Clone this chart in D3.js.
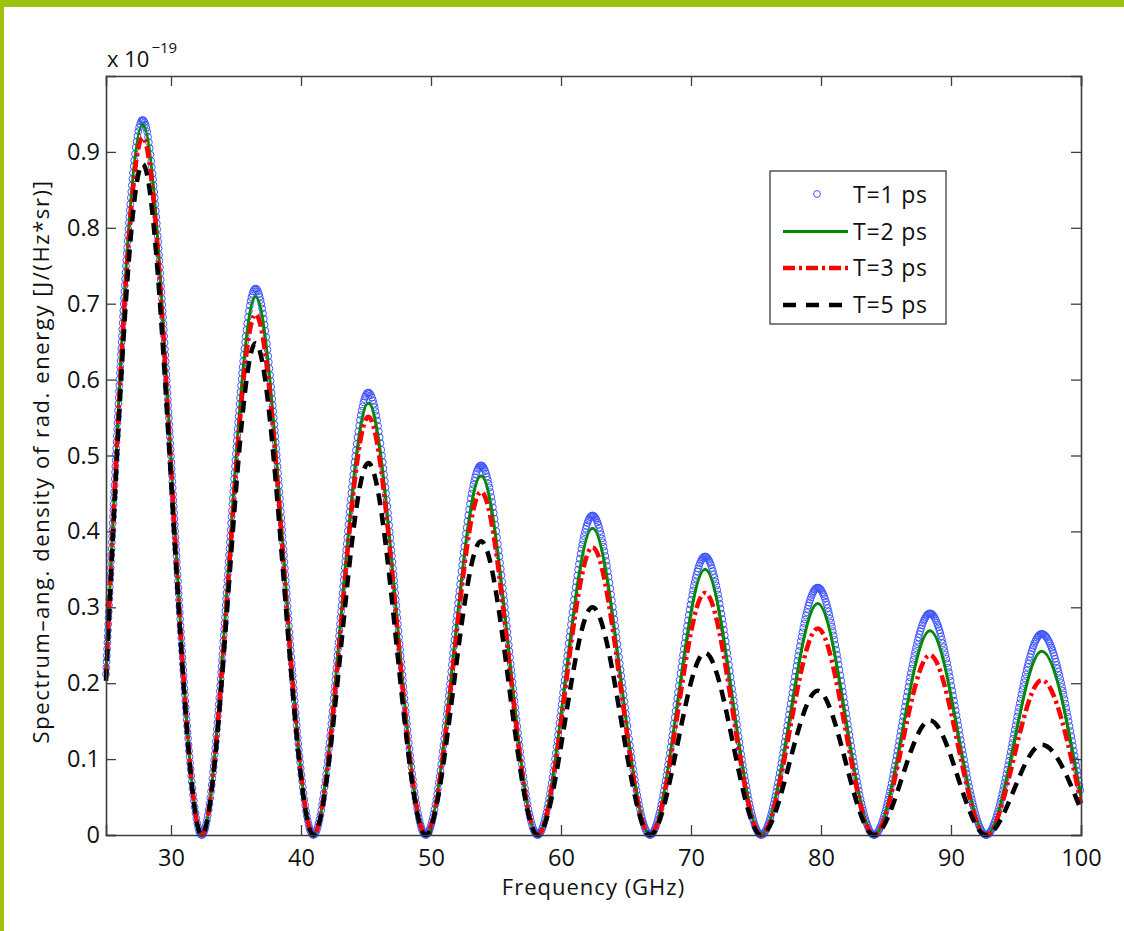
<!DOCTYPE html>
<html lang="en">
<head>
<meta charset="UTF-8">
<title>Spectrum</title>
<script src="https://cdn.jsdelivr.net/npm/d3@7"></script>
<style>
  body { margin: 0; background: #fff; }
  .frame-top { position: absolute; left: 0; top: 0; width: 1124px; height: 7px; background: #9dc30e; }
  .frame-left { position: absolute; left: 0; top: 0; width: 4px; height: 931px; background: #9dc30e; }
  svg text { font-family: "Open Sans", "DejaVu Sans", sans-serif; fill: #111; }
  .axis path, .axis line { stroke: #3a3f3f; }
</style>
</head>
<body>
<div class="frame-top"></div>
<div class="frame-left"></div>
<div id="root"></div>
<script>
  // key points: start, peaks and zeros, end (GHz)
  const freq = [25, 27.82, 32.36, 36.5, 40.95, 45.18, 49.59, 53.85, 58.2, 62.42,
                66.85, 71.08, 75.4, 79.75, 84.08, 88.38, 92.7, 96.98, 100]
  // values in units of 1e-19 J/(Hz*sr)
  const t1 = [0.212, 0.942, 0, 0.720, 0, 0.583, 0, 0.487, 0, 0.421, 0, 0.367, 0, 0.326, 0, 0.292, 0, 0.265, 0.053]
  const t2 = [0.210, 0.936, 0, 0.709, 0, 0.569, 0, 0.473, 0, 0.404, 0, 0.350, 0, 0.305, 0, 0.269, 0, 0.242, 0.050]
  const t3 = [0.208, 0.919, 0, 0.686, 0, 0.551, 0, 0.452, 0, 0.379, 0, 0.319, 0, 0.272, 0, 0.237, 0, 0.204, 0.042]
  const t5 = [0.203, 0.884, 0, 0.648, 0, 0.490, 0, 0.387, 0, 0.300, 0, 0.240, 0, 0.190, 0, 0.151, 0, 0.119, 0.033]
  const seriesNames = ['T=1 ps', 'T=2 ps', 'T=3 ps', 'T=5 ps']
  const xTicks = [30, 40, 50, 60, 70, 80, 90, 100]
  const yTicks = [0, 0.1, 0.2, 0.3, 0.4, 0.5, 0.6, 0.7, 0.8, 0.9]

  const width = 1124, height = 931
  const padL = 106, padR = 1081, padT = 76, padB = 835

  const svg = d3.select('#root').append('svg')
      .attr('width', width).attr('height', height)
      .style('position', 'absolute').style('left', 0).style('top', 0)

  const x = d3.scaleLinear().domain([25, 100]).range([padL, padR])
  const y = d3.scaleLinear().domain([0, 1]).range([padB, padT])

  const line = d3.line()
      .x(d => x(d[0]))
      .y(d => y(d[1]))
      .curve(d3.curveMonotoneX)

  const pairs = vals => freq.map((f, i) => [f, vals[i]])

  // T=1 : blue circle markers along the curve
  const guide = svg.append('path')
      .attr('d', line(pairs(t1)))
      .attr('fill', 'none').attr('stroke', 'none')
  const node = guide.node()
  const total = node.getTotalLength()
  const marks = []
  let last = null
  for (let s = 0; s <= total; s += 0.5) {
      const p = node.getPointAtLength(s)
      if (!last || p.x - last.x >= 0.8 || Math.hypot(p.x - last.x, p.y - last.y) >= 6) {
          marks.push([p.x, p.y]); last = p
      }
  }
  svg.append('g').selectAll('circle')
      .data(marks)
      .enter().append('circle')
      .attr('cx', d => d[0]).attr('cy', d => d[1])
      .attr('r', 3.4)
      .attr('fill', 'none')
      .attr('stroke', '#3f55ff')
      .attr('stroke-width', 1)

  // T=2 solid green
  svg.append('path').attr('d', line(pairs(t2)))
      .attr('fill', 'none').attr('stroke', '#008a00').attr('stroke-width', 3)
  // T=3 red dash-dot
  svg.append('path').attr('d', line(pairs(t3)))
      .attr('fill', 'none').attr('stroke', '#ff0000').attr('stroke-width', 4.5)
      .attr('stroke-dasharray', '12,4,3,4')
  // T=5 black dashed
  svg.append('path').attr('d', line(pairs(t5)))
      .attr('fill', 'none').attr('stroke', '#000').attr('stroke-width', 4.5)
      .attr('stroke-dasharray', '12,8')

  // axes, matlab style: box, ticks pointing inward on all sides
  const tickLen = 10
  svg.append('g').attr('class', 'axis')
      .attr('transform', `translate(0,${padB})`)
      .call(d3.axisBottom(x).tickValues(xTicks).tickSize(-tickLen).tickPadding(14).tickFormat(d3.format('d')))
  svg.append('g').attr('class', 'axis')
      .attr('transform', `translate(0,${padT})`)
      .call(d3.axisTop(x).tickValues(xTicks).tickSize(-tickLen).tickFormat(''))
  svg.append('g').attr('class', 'axis')
      .attr('transform', `translate(${padL},0)`)
      .call(d3.axisLeft(y).tickValues(yTicks).tickSize(-tickLen).tickPadding(6).tickFormat(d => d === 0 ? '0' : d3.format('.1f')(d)))
  svg.append('g').attr('class', 'axis')
      .attr('transform', `translate(${padR},0)`)
      .call(d3.axisRight(y).tickValues(yTicks).tickSize(-tickLen).tickFormat(''))

  svg.selectAll('.axis path.domain').attr('stroke-width', 1.6)
  svg.selectAll('.axis .tick line').attr('stroke-width', 1.3)
  svg.selectAll('.axis text').attr('font-size', 23.5).attr('fill', '#111')
      .attr('font-family', '"Open Sans", sans-serif')

  // exponent label
  const expo = svg.append('text').attr('x', padL + 1).attr('y', 67).attr('font-size', 22)
  expo.append('tspan').text('x 10')
  expo.append('tspan').attr('dx', 2).attr('dy', -14).attr('font-size', 15).text('\u221219')

  // axis titles
  svg.append('text')
      .attr('x', (padL + padR) / 2).attr('y', 895)
      .attr('text-anchor', 'middle').attr('font-size', 22)
      .attr('letter-spacing', 1)
      .text('Frequency (GHz)')
  svg.append('text')
      .attr('transform', `translate(49,${(padT + padB) / 2 + 6}) rotate(-90)`)
      .attr('text-anchor', 'middle').attr('font-size', 22)
      .attr('letter-spacing', 1.6)
      .text('Spectrum\u2013ang. density of rad. energy [J/(Hz*sr)]')

  // legend
  const lg = svg.append('g').attr('transform', 'translate(770,171)')
  lg.append('rect').attr('width', 176).attr('height', 153)
      .attr('fill', '#fff').attr('stroke', '#3a3f3f').attr('stroke-width', 1.3)
  const rows = [24, 60.5, 97, 134]
  const styles = [
      null,
      { stroke: '#008a00', w: 3, dash: null },
      { stroke: '#ff0000', w: 4.5, dash: '12,4,3,4' },
      { stroke: '#000', w: 4.5, dash: '13,10' }
  ]
  seriesNames.forEach((name, i) => {
      const yy = rows[i]
      if (i === 0) {
          lg.append('circle').attr('cx', 47).attr('cy', yy - 1).attr('r', 3.4)
            .attr('fill', 'none').attr('stroke', '#3f55ff').attr('stroke-width', 1)
      } else {
          lg.append('line').attr('x1', 13).attr('x2', 78).attr('y1', yy).attr('y2', yy)
            .attr('stroke', styles[i].stroke).attr('stroke-width', styles[i].w)
            .attr('stroke-dasharray', styles[i].dash)
      }
      lg.append('text').attr('x', 83).attr('y', yy + 8).attr('font-size', 23)
        .attr('letter-spacing', 0.8).text(name)
  })
</script>
</body>
</html>
